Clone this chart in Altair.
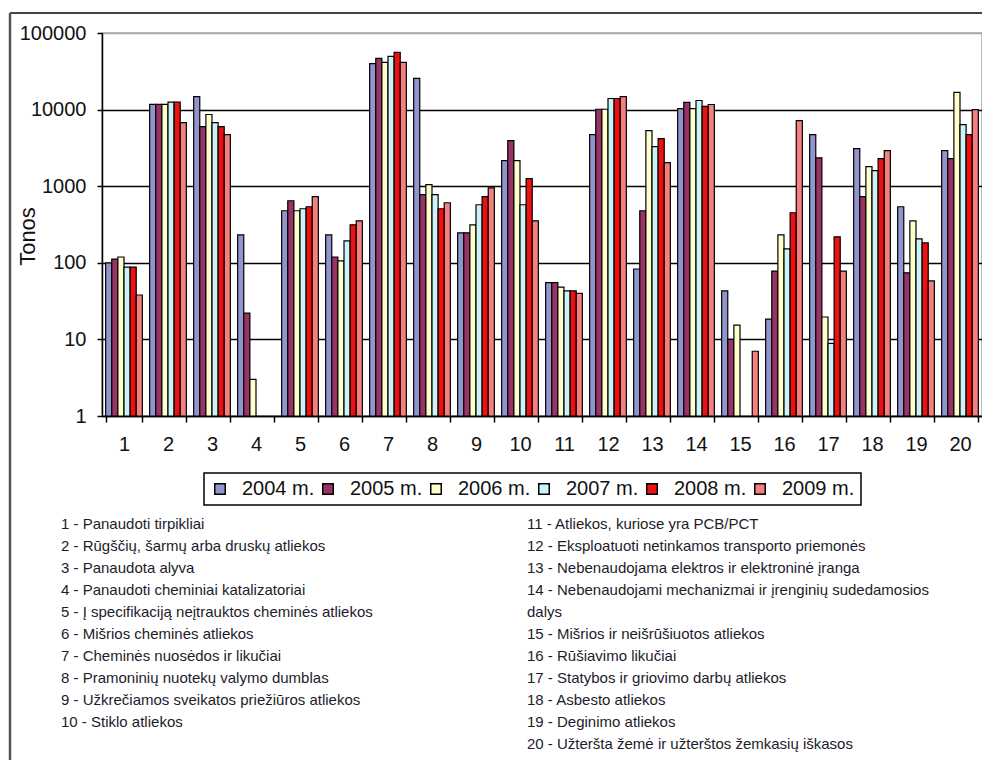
import altair as alt
import pandas as pd

# Waste categories 1..20 and tonnes per year (missing = no data)
categories = list(range(1, 21))
years = ["2004 m.", "2005 m.", "2006 m.", "2007 m.", "2008 m.", "2009 m."]

t2004 = [100, 11700, 14800, 232, 478, 232, 39800, 25500, 246, 2160,
         55, 4720, 83, 10300, 43, 18.4, 4720, 3100, 539, 2920]
t2005 = [112, 11700, 6010, 22, 646, 119, 46700, 774, 246, 3940,
         55, 10100, 478, 12400, 10, 78, 2350, 729, 74, 2290]
t2006 = [119, 11700, 8630, 3, 478, 106, 41400, 1046, 313, 2160,
         48, 10100, 5320, 10300, 15.4, 232, 19.6, 1800, 353, 16750]
t2007 = [88, 12500, 6780, None, 508, 193, 49600, 774, 573, 573,
         43, 13970, 3290, 13150, None, 152, 8.9, 1600, 205, 6380]
t2008 = [88, 12500, 6010, None, 539, 313, 55900, 508, 729, 1254,
         43, 13970, 4190, 11000, None, 450, 218, 2290, 182, 4720]
t2009 = [38, 6780, 4720, None, 729, 353, 41400, 608, 950, 353,
         40, 14800, 2030, 11660, 7, 7200, 78, 2920, 58, 10000]

series = [t2004, t2005, t2006, t2007, t2008, t2009]
colors = ["#9494cc", "#993366", "#ffffcc", "#ccf4f8", "#ee1111", "#f58080"]

y_ticks = [1, 10, 100, 1000, 10000, 100000]

notes_left = [
    "1 - Panaudoti tirpikliai",
    "2 - Rūgščių, šarmų arba druskų atliekos",
    "3 - Panaudota alyva",
    "4 - Panaudoti cheminiai katalizatoriai",
    "5 - Į specifikaciją neįtrauktos cheminės atliekos",
    "6 - Mišrios cheminės atliekos",
    "7 - Cheminės nuosėdos ir likučiai",
    "8 - Pramoninių nuotekų valymo dumblas",
    "9 - Užkrečiamos sveikatos priežiūros atliekos",
    "10 - Stiklo atliekos",
]
notes_right = [
    "11 - Atliekos, kuriose yra PCB/PCT",
    "12 - Eksploatuoti netinkamos transporto priemonės",
    "13 - Nebenaudojama elektros ir elektroninė įranga",
    "14 - Nebenaudojami mechanizmai ir įrenginių sudedamosios\ndalys",
    "15 - Mišrios ir neišrūšiuotos atliekos",
    "16 - Rūšiavimo likučiai",
    "17 - Statybos ir griovimo darbų atliekos",
    "18 - Asbesto atliekos",
    "19 - Deginimo atliekos",
    "20 - Užteršta žemė ir užterštos žemkasių iškasos",
]

# long table for the bars
rows = []
for year, vals in zip(years, series):
    for cat, v in zip(categories, vals):
        if v is not None:
            rows.append({"cat": cat, "year": year, "tonos": v})
bars_df = pd.DataFrame(rows)

# note lines: column index and running line number (wrapped entries take two lines)
note_rows = []
for col, notes in enumerate([notes_left, notes_right]):
    line = 0
    for text in notes:
        note_rows.append({"col": col, "line": line, "text": text})
        line += text.count("\n") + 1
notes_df = pd.DataFrame(note_rows)

FONT = "Liberation Sans"
W, H = 880, 383

bars = alt.Chart(bars_df).transform_calculate(
    base="1"
).mark_bar(stroke="black", strokeWidth=1.2).encode(
    x=alt.X(
        "cat:O",
        title=None,
        scale=alt.Scale(paddingInner=0.166, paddingOuter=0.083),
        axis=alt.Axis(
            labelAngle=0, labelFontSize=20, labelColor="#111", labelPadding=12,
            tickBand="extent", tickSize=6, tickColor="black", tickWidth=1.5,
            domainColor="black", domainWidth=1.5, grid=False,
        ),
    ),
    xOffset=alt.XOffset("year:N", sort=years,
                        scale=alt.Scale(paddingInner=0, paddingOuter=0)),
    y=alt.Y(
        "tonos:Q",
        scale=alt.Scale(type="log", domain=[1, 100000], nice=False),
        axis=alt.Axis(
            values=y_ticks, format="d", labelFontSize=20, labelColor="#111",
            labelPadding=11, tickSize=5, tickColor="black", tickWidth=1.5,
            domainColor="black", domainWidth=1.5,
            grid=True, gridWidth=1.5,
            gridColor=alt.condition("datum.value >= 100000",
                                    alt.value("#a8a8a8"), alt.value("black")),
            title="Tonos", titleFontSize=22, titleFontWeight="normal",
            titleColor="#111", titleAngle=-90, titleX=-75, titleY=203,
            titleAlign="center", titleBaseline="middle",
        ),
    ),
    y2=alt.Y2("base:Q"),
    color=alt.Color(
        "year:N",
        sort=years,
        scale=alt.Scale(domain=years, range=colors),
        legend=alt.Legend(
            orient="none", legendX=102, legendY=440, direction="horizontal",
            title=None, symbolType="square", symbolSize=110,
            symbolStrokeColor="black", symbolStrokeWidth=1.5,
            labelFontSize=20, labelColor="#111", labelOffset=12,
            columnPadding=3, padding=6, strokeColor="black",
            fillColor="white",
        ),
    ),
)

notes = alt.Chart(notes_df).transform_calculate(
    px="datum.col * 466 - 41",
    py="484 + datum.line * 22",
).mark_text(
    align="left", baseline="top", fontSize=15, lineHeight=22,
    lineBreak="\n", color="#1c1c2c", font=FONT,
).encode(
    x=alt.X("px:Q", scale=None, axis=None),
    y=alt.Y("py:Q", scale=None, axis=None),
    text="text:N",
)

one = pd.DataFrame({"k": [0]})
frame_top = alt.Chart(one).mark_rule(color="#444", strokeWidth=2).encode(
    x=alt.value(-92), x2=alt.value(W), y=alt.value(-20)
)
frame_left = alt.Chart(one).mark_rule(color="#555", strokeWidth=2.5).encode(
    x=alt.value(-92), y=alt.value(-20), y2=alt.value(760 - 33)
)

chart = alt.layer(bars, notes, frame_top, frame_left).resolve_scale(
    x="independent", y="independent"
).properties(
    width=W, height=H,
    autosize=alt.AutoSizeParams(type="none"),
    padding={"left": 102, "top": 33, "right": 0, "bottom": 760 - 33 - H},
    background="white",
).configure(font=FONT).configure_view(
    stroke="#a8a8a8", strokeWidth=1.5
).configure_legend(strokeWidth=1.5)

chart.save("out.html", embed_options={"renderer": "svg", "actions": False})
